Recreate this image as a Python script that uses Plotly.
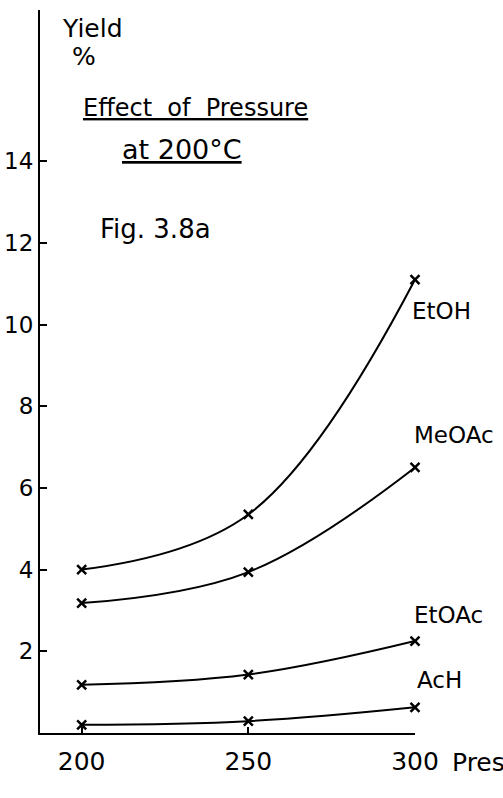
import plotly.graph_objects as go

pressure = [200, 250, 300]
etoh = [4.0, 5.35, 11.1]
meoac = [3.18, 3.94, 6.5]
etoac = [1.18, 1.43, 2.25]
ach = [0.2, 0.29, 0.63]

series = [("EtOH", etoh), ("MeOAc", meoac), ("EtOAc", etoac), ("AcH", ach)]
x_ticks = [200, 250, 300]
y_ticks = [2, 4, 6, 8, 10, 12, 14]

FONT = "DejaVu Sans"

fig = go.Figure()
for name, vals in series:
    fig.add_trace(go.Scatter(
        x=pressure, y=vals, mode="lines+markers", name=name,
        line=dict(color="black", width=2, shape="spline", smoothing=1.1),
        marker=dict(symbol="x-thin", size=9, line=dict(color="black", width=2.5), color="black"),
        showlegend=False, cliponaxis=False,
    ))

W, H = 503, 798
L, R, T, B = 40, 88, 10, 65
x0, x1 = 187.5, 300.0
y0, y1 = 0.0, 17.7


def label(text, px, py, size=24):
    fig.add_annotation(x=(px - L) / (W - L - R), y=(H - B - py) / (H - B - T),
                       xref="paper", yref="paper", text=text,
                       showarrow=False, xanchor="left", yanchor="middle",
                       font=dict(family=FONT, size=size, color="black"))


label("Yield", 60, 28, 25)
label("%", 70, 57, 25)
label('<span style="text-decoration:underline">Effect  of  Pressure</span>', 81, 108, 24)
label('<span style="text-decoration:underline">at 200°C</span>', 120, 150, 27)
label("Fig. 3.8a", 98, 229, 26)
label("EtOH", 410, 311, 23)
label("MeOAc", 412, 435, 23)
label("EtOAc", 412, 615, 23)
label("AcH", 415, 680, 23)
label("Pressure", 450, 762, 25)

fig.update_layout(
    width=W, height=H,
    margin=dict(l=L, r=R, t=T, b=B, pad=0),
    paper_bgcolor="white", plot_bgcolor="white",
    font=dict(family=FONT, size=25, color="black"),
    xaxis=dict(range=[x0, x1], tickvals=x_ticks, ticktext=[str(v) for v in x_ticks],
               showline=True, linecolor="black", linewidth=2, ticks="inside",
               ticklen=6, tickwidth=2, tickcolor="black", showgrid=False,
               zeroline=False, tickfont=dict(size=25), automargin=False,
               ticklabelstandoff=5),
    yaxis=dict(range=[y0, y1], tickvals=y_ticks, ticktext=[str(v) for v in y_ticks],
               showline=True, linecolor="black", linewidth=2, ticks="inside",
               ticklen=7, tickwidth=2, tickcolor="black", showgrid=False,
               zeroline=False, tickfont=dict(size=23), automargin=False),
)

fig.write_html("out.html", config={"displayModeBar": False},
               post_script="document.body.style.margin='0';document.body.style.overflow='hidden';")
